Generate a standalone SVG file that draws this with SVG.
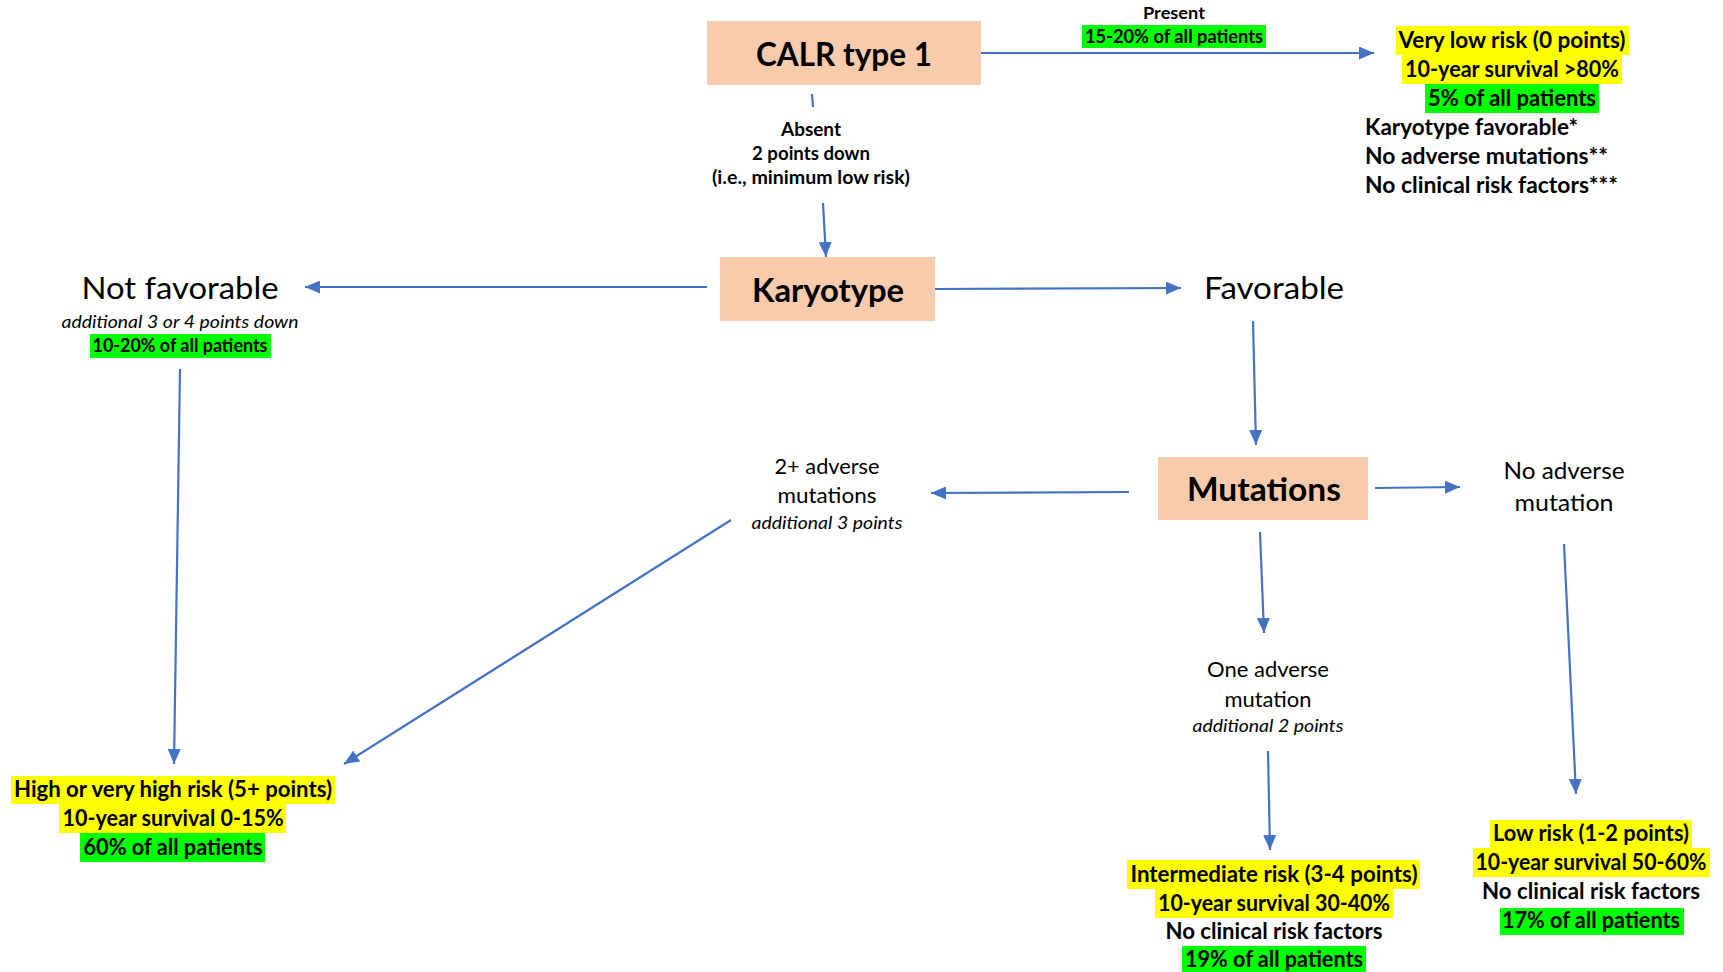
<svg xmlns="http://www.w3.org/2000/svg" width="1723" height="972" viewBox="0 0 1723 972">
<style>
text{font-family:Lato,"Liberation Sans",sans-serif;fill:#000;text-anchor:middle}
.b{font-weight:bold}
.i{font-style:italic}
.box{fill:#F8CBAD}
.y{fill:#FFFF00}
.g{fill:#00FF00}
.c line{stroke:#4472C4;stroke-width:2.2;fill:none}
.l{text-anchor:start}
</style>
<defs>
<marker id="ah" markerUnits="userSpaceOnUse" markerWidth="15" markerHeight="13" viewBox="0 0 15 13" refX="15" refY="6.5" orient="auto">
<path d="M0,0 L15,6.5 L0,13 z" fill="#4472C4"/>
</marker>
</defs>
<rect width="1723" height="972" fill="#fff"/>
<g class="c">
<line x1="981" y1="53" x2="1374" y2="53" marker-end="url(#ah)"/>
<line x1="812" y1="94" x2="813" y2="107"/>
<line x1="823" y1="203" x2="826" y2="257" marker-end="url(#ah)"/>
<line x1="707" y1="287" x2="305" y2="287" marker-end="url(#ah)"/>
<line x1="935" y1="289" x2="1181" y2="288" marker-end="url(#ah)"/>
<line x1="180" y1="369" x2="174" y2="764" marker-end="url(#ah)"/>
<line x1="1253" y1="321" x2="1256" y2="445" marker-end="url(#ah)"/>
<line x1="1129" y1="492" x2="931" y2="493" marker-end="url(#ah)"/>
<line x1="1375" y1="488" x2="1460" y2="487" marker-end="url(#ah)"/>
<line x1="731" y1="520" x2="344" y2="764" marker-end="url(#ah)"/>
<line x1="1260" y1="532" x2="1264" y2="633" marker-end="url(#ah)"/>
<line x1="1564" y1="544" x2="1576" y2="794" marker-end="url(#ah)"/>
<line x1="1268" y1="751" x2="1270" y2="850" marker-end="url(#ah)"/>
</g>
<g id="calr">
<rect class="box" x="707" y="21" width="274" height="64"/>
<text class="b" x="844" y="66" font-size="33" textLength="176" lengthAdjust="spacingAndGlyphs">CALR type 1</text>
</g>
<g id="present">
<text class="b" x="1174" y="19" font-size="17" textLength="62" lengthAdjust="spacingAndGlyphs">Present</text>
<rect class="g" x="1082" y="25" width="184" height="23"/>
<text class="b" x="1174" y="43" font-size="18" textLength="178" lengthAdjust="spacingAndGlyphs">15-20% of all patients</text>
</g>
<g id="verylow">
<rect class="y" x="1396" y="26" width="233" height="29"/>
<text class="b" x="1512" y="48" font-size="22" textLength="227" lengthAdjust="spacingAndGlyphs">Very low risk (0 points)</text>
<rect class="y" x="1402" y="55" width="220" height="29"/>
<text class="b" x="1512" y="77" font-size="22" textLength="214" lengthAdjust="spacingAndGlyphs">10-year survival &gt;80%</text>
<rect class="g" x="1425" y="84" width="174" height="29"/>
<text class="b" x="1512" y="106" font-size="22" textLength="168" lengthAdjust="spacingAndGlyphs">5% of all patients</text>
<text class="b l" x="1365" y="135" font-size="22" textLength="213" lengthAdjust="spacingAndGlyphs">Karyotype favorable*</text>
<text class="b l" x="1365" y="164" font-size="22" textLength="243" lengthAdjust="spacingAndGlyphs">No adverse mutations**</text>
<text class="b l" x="1365" y="193" font-size="22" textLength="253" lengthAdjust="spacingAndGlyphs">No clinical risk factors***</text>
</g>
<g id="absent">
<text class="b" x="811" y="136" font-size="18" textLength="60" lengthAdjust="spacingAndGlyphs">Absent</text>
<text class="b" x="811" y="160" font-size="18" textLength="118" lengthAdjust="spacingAndGlyphs">2 points down</text>
<text class="b" x="811" y="184" font-size="18" textLength="198" lengthAdjust="spacingAndGlyphs">(i.e., minimum low risk)</text>
</g>
<g id="karyotype">
<rect class="box" x="720" y="257" width="215" height="64"/>
<text class="b" x="828" y="302" font-size="33" textLength="152" lengthAdjust="spacingAndGlyphs">Karyotype</text>
</g>
<g id="notfavorable">
<text x="180" y="299" font-size="31" textLength="197" lengthAdjust="spacingAndGlyphs">Not favorable</text>
<text class="i" x="180" y="328" font-size="18" textLength="237" lengthAdjust="spacingAndGlyphs">additional 3 or 4 points down</text>
<rect class="g" x="90" y="334" width="181" height="24"/>
<text class="b" x="180" y="352" font-size="18" textLength="175" lengthAdjust="spacingAndGlyphs">10-20% of all patients</text>
</g>
<g id="favorable">
<text x="1274" y="299" font-size="31" textLength="140" lengthAdjust="spacingAndGlyphs">Favorable</text>
</g>
<g id="mutations">
<rect class="box" x="1158" y="457" width="210" height="63"/>
<text class="b" x="1264" y="501" font-size="33" textLength="154" lengthAdjust="spacingAndGlyphs">Mutations</text>
</g>
<g id="twoplus">
<text x="827" y="474" font-size="21" textLength="105" lengthAdjust="spacingAndGlyphs">2+ adverse</text>
<text x="827" y="503" font-size="21" textLength="99" lengthAdjust="spacingAndGlyphs">mutations</text>
<text class="i" x="827" y="529" font-size="18" textLength="151" lengthAdjust="spacingAndGlyphs">additional 3 points</text>
</g>
<g id="noadverse">
<text x="1564" y="479" font-size="23" textLength="121" lengthAdjust="spacingAndGlyphs">No adverse</text>
<text x="1564" y="511" font-size="23" textLength="99" lengthAdjust="spacingAndGlyphs">mutation</text>
</g>
<g id="oneadverse">
<text x="1268" y="677" font-size="21" textLength="122" lengthAdjust="spacingAndGlyphs">One adverse</text>
<text x="1268" y="707" font-size="21" textLength="87" lengthAdjust="spacingAndGlyphs">mutation</text>
<text class="i" x="1268" y="732" font-size="18" textLength="151" lengthAdjust="spacingAndGlyphs">additional 2 points</text>
</g>
<g id="highrisk">
<rect class="y" x="11" y="776" width="324" height="28"/>
<text class="b" x="173" y="797" font-size="22" textLength="318" lengthAdjust="spacingAndGlyphs">High or very high risk (5+ points)</text>
<rect class="y" x="59" y="804" width="227" height="29"/>
<text class="b" x="173" y="826" font-size="22" textLength="221" lengthAdjust="spacingAndGlyphs">10-year survival 0-15%</text>
<rect class="g" x="80" y="833" width="185" height="29"/>
<text class="b" x="173" y="855" font-size="22" textLength="179" lengthAdjust="spacingAndGlyphs">60% of all patients</text>
</g>
<g id="intermediate">
<rect class="y" x="1127" y="860" width="293" height="29"/>
<text class="b" x="1274" y="882" font-size="22" textLength="287" lengthAdjust="spacingAndGlyphs">Intermediate risk (3-4 points)</text>
<rect class="y" x="1155" y="889" width="238" height="29"/>
<text class="b" x="1274" y="911" font-size="22" textLength="232" lengthAdjust="spacingAndGlyphs">10-year survival 30-40%</text>
<text class="b" x="1274" y="939" font-size="22" textLength="217" lengthAdjust="spacingAndGlyphs">No clinical risk factors</text>
<rect class="g" x="1182" y="946" width="184" height="26"/>
<text class="b" x="1274" y="967" font-size="22" textLength="178" lengthAdjust="spacingAndGlyphs">19% of all patients</text>
</g>
<g id="lowrisk">
<rect class="y" x="1490" y="820" width="202" height="28"/>
<text class="b" x="1591" y="841" font-size="22" textLength="196" lengthAdjust="spacingAndGlyphs">Low risk (1-2 points)</text>
<rect class="y" x="1473" y="848" width="237" height="29"/>
<text class="b" x="1591" y="870" font-size="22" textLength="231" lengthAdjust="spacingAndGlyphs">10-year survival 50-60%</text>
<text class="b" x="1591" y="899" font-size="22" textLength="218" lengthAdjust="spacingAndGlyphs">No clinical risk factors</text>
<rect class="g" x="1500" y="908" width="184" height="27"/>
<text class="b" x="1591" y="928" font-size="22" textLength="178" lengthAdjust="spacingAndGlyphs">17% of all patients</text>
</g>
</svg>
